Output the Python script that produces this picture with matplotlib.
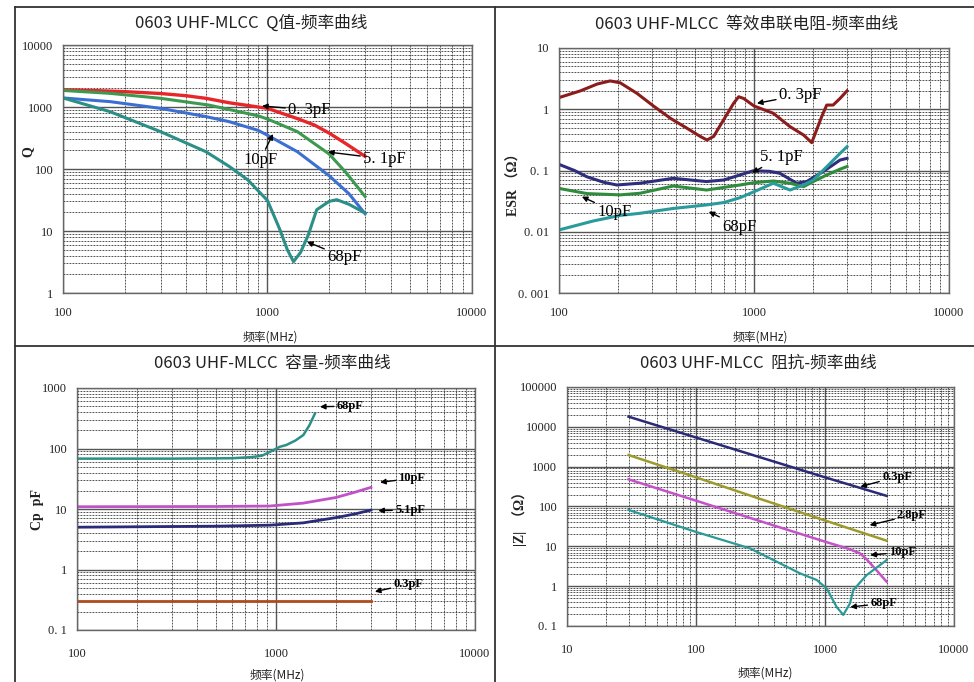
import numpy as np
import matplotlib
matplotlib.use("Agg")
import matplotlib.pyplot as plt
from matplotlib.ticker import LogLocator, NullFormatter
from matplotlib.lines import Line2D

W, H = 974, 682
SERIF = ['Liberation Serif', 'Noto Sans CJK SC']
CJK = ['Noto Sans CJK SC', 'DejaVu Sans']

# ---- Q vs frequency
q_f_03 = [100, 150, 200, 300, 400, 500, 650, 800, 1000, 1400, 1700, 2000, 2400, 3000]
q_03 = [1900, 1830, 1770, 1650, 1520, 1380, 1170, 1060, 950, 650, 510, 380, 260, 160]
q_f_51 = [100, 170, 300, 520, 660, 900, 1000, 1400, 2000, 2440, 3000]
q_51 = [1850, 1660, 1380, 1070, 900, 720, 640, 400, 175, 85, 36]
q_f_10 = [100, 170, 300, 500, 650, 900, 1000, 1400, 2000, 2500, 3000]
q_10 = [1400, 1220, 950, 700, 580, 420, 350, 190, 78, 40, 19]
q_f_68 = [100, 170, 300, 500, 650, 800, 1000, 1150, 1250, 1340, 1450, 1580, 1740,
          2000, 2180, 2500, 3000]
q_68 = [1400, 840, 400, 190, 110, 67, 31, 10.5, 5, 3.2, 4.5, 8.5, 22, 30, 32, 27, 19.5]

# ---- ESR vs frequency
esr_f_03 = [100, 129, 157, 183, 206, 251, 305, 373, 453, 530, 574, 621, 698, 786, 834,
            885, 1000, 1256, 1530, 1795, 1977, 2225, 2360, 2545, 2761, 3000]
esr_03 = [1.55, 2.0, 2.58, 2.9, 2.7, 1.82, 1.13, 0.71, 0.49, 0.36, 0.315, 0.36, 0.67,
          1.25, 1.6, 1.5, 1.13, 0.86, 0.52, 0.38, 0.285, 0.76, 1.17, 1.17, 1.5, 2.0]
esr_f_51 = [100, 120, 139, 170, 198, 260, 385, 571, 700, 848, 991, 1200, 1358, 1655,
            1863, 2264, 2761, 3000]
esr_51 = [0.126, 0.1, 0.079, 0.064, 0.058, 0.062, 0.0745, 0.066, 0.07, 0.0845, 0.099,
          0.097, 0.09, 0.062, 0.066, 0.096, 0.148, 0.158]
esr_f_10 = [100, 139, 206, 260, 385, 571, 848, 991, 1256, 1530, 1795, 2013, 2360, 2761, 3000]
esr_10 = [0.051, 0.042, 0.04, 0.0425, 0.0558, 0.048, 0.058, 0.063, 0.0674, 0.062, 0.0545,
          0.066, 0.0845, 0.105, 0.116]
esr_f_68 = [100, 150, 206, 260, 385, 571, 700, 848, 1000, 1256, 1530, 1795, 2013, 2360,
            2761, 3000]
esr_68 = [0.0107, 0.015, 0.0185, 0.02, 0.024, 0.0274, 0.03, 0.036, 0.045, 0.062, 0.048,
          0.058, 0.07, 0.115, 0.19, 0.245]

# ---- Cp vs frequency
cp_f_68 = [100, 300, 600, 750, 850, 933, 1047, 1125, 1250, 1372, 1470, 1570]
cp_68 = [68, 68, 69, 72, 76, 88, 107, 114, 135, 167, 240, 380]
cp_f_10 = [100, 500, 930, 1370, 2000, 2500, 3000]
cp_10 = [10.9, 11, 11.2, 12.5, 15.5, 19, 22.8]
cp_f_51 = [100, 500, 930, 1370, 2000, 2500, 3000]
cp_51 = [5.0, 5.2, 5.4, 5.9, 7.2, 8.3, 9.6]
cp_f_03 = [100, 1000, 3000]
cp_03 = [0.3, 0.3, 0.3]

# ---- |Z| vs frequency
z_f_03 = [30, 100, 300, 1000, 3000]
z_03 = [18000, 5400, 1800, 540, 185]
z_f_28 = [30, 100, 300, 1000, 3000]
z_28 = [1960, 540, 163, 44.5, 13.9]
z_f_10 = [30, 100, 300, 1000, 1500, 1866, 2104, 2366, 3000]
z_10 = [481, 140, 45, 13.1, 8.8, 6.7, 4.7, 3.1, 1.3]
z_f_68 = [30, 100, 262, 640, 862, 1030, 1231, 1386, 1562, 1657, 2104, 3000]
z_68 = [82, 23, 8.9, 2.1, 1.43, 0.88, 0.30, 0.19, 0.37, 0.8, 1.9, 4.5]


fig = plt.figure(figsize=(W / 100, H / 100), dpi=100)


def px_axes(l, t, r, b):
    return fig.add_axes([l / W, 1 - b / H, (r - l) / W, (b - t) / H])


def px_text(x, y, s, **kw):
    fig.text(x / W, 1 - y / H, s, **kw)


def setup(ax, xlim, ylim, yticks, ylabels, xticks, xlabels, xpad):
    ax.set_xscale('log')
    ax.set_yscale('log')
    ax.set_xlim(*xlim)
    ax.set_ylim(*ylim)
    ax.set_xticks(xticks, labels=xlabels)
    ax.set_yticks(yticks, labels=ylabels)
    for axis in (ax.xaxis, ax.yaxis):
        axis.set_minor_locator(LogLocator(base=10, subs=np.arange(2, 10), numticks=20))
        axis.set_minor_formatter(NullFormatter())
    ax.tick_params(which='both', length=0)
    ax.tick_params(axis='y', pad=7)
    ax.tick_params(axis='x', pad=xpad)
    for lab in ax.get_xticklabels() + ax.get_yticklabels():
        lab.set_fontfamily(SERIF)
        lab.set_fontsize(9)
        lab.set_color('#222222')
    ax.grid(which='major', ls='-', color='#555555', lw=1.0)
    ax.grid(which='minor', ls=(0, (2.2, 1.4)), color='#333333', lw=0.6)
    ax.set_axisbelow(True)
    for sp in ax.spines.values():
        sp.set_color('#666666')
        sp.set_linewidth(1.0)


def note(ax, s, xy, xytext, size=12, weight='normal'):
    ax.annotate(s, xy=xy, xytext=xytext, fontsize=size, fontfamily=SERIF,
                fontweight=weight, va='center', ha='left',
                arrowprops=dict(arrowstyle='-|>', color='black', lw=1.0,
                                mutation_scale=8, shrinkA=0, shrinkB=0))


# Q
ax1 = px_axes(63, 45, 472, 293)
setup(ax1, (100, 10000), (1, 10000), [1, 10, 100, 1000, 10000],
      ['1', '10', '100', '1000', '10000'], [100, 1000, 10000], ['100', '1000', '10000'], 10)
ax1.plot(q_f_03, q_03, color='#e8262a', lw=2.4)
ax1.plot(q_f_51, q_51, color='#3c9a50', lw=2.2)
ax1.plot(q_f_10, q_10, color='#3b6fd2', lw=2.2)
ax1.plot(q_f_68, q_68, color='#2a8f86', lw=2.2)
note(ax1, '0. 3pF', (940, 1040), (1259, 896))
note(ax1, '10pF', (1064, 367), (759, 140))
note(ax1, '5. 1pF', (1977, 188), (2930, 145))
note(ax1, '68pF', (1560, 6.7), (1955, 3.8))

# ESR
ax2 = px_axes(559, 48, 949, 293)
setup(ax2, (100, 10000), (0.001, 10), [0.001, 0.01, 0.1, 1, 10],
      ['0. 001', '0. 01', '0. 1', '1', '10'], [100, 1000, 10000], ['100', '1000', '10000'], 10)
ax2.plot(esr_f_03, esr_03, color='#8c1c1c', lw=2.2)
ax2.plot(esr_f_51, esr_51, color='#2e2e7c', lw=2.2)
ax2.plot(esr_f_10, esr_10, color='#2f8c3c', lw=2.2)
ax2.plot(esr_f_68, esr_68, color='#2a9a9c', lw=2.2)
note(ax2, '0. 3pF', (1035, 1.25), (1340, 1.71))
note(ax2, '5. 1pF', (977, 0.092), (1077, 0.168))
note(ax2, '10pF', (131, 0.0374), (157, 0.0213))
note(ax2, '68pF', (586, 0.0213), (686, 0.0121))

# Cp
ax3 = px_axes(77, 388, 475, 630)
setup(ax3, (100, 10000), (0.1, 1000), [0.1, 1, 10, 100, 1000],
      ['0. 1', '1', '10', '100', '1000'], [100, 1000, 10000], ['100', '1000', '10000'], 13)
ax3.plot(cp_f_68, cp_68, color='#2a9088', lw=1.8)
ax3.plot(cp_f_10, cp_10, color='#c052c8', lw=2.0)
ax3.plot(cp_f_51, cp_51, color='#2a2a7a', lw=2.0)
ax3.plot(cp_f_03, cp_03, color='#b04a1c', lw=2.0)
note(ax3, '68pF', (1663, 490), (2018, 503), size=9, weight='bold')
note(ax3, '10pF', (3335, 27.6), (4121, 32), size=9, weight='bold')
note(ax3, '5.1pF', (3266, 9.4), (3964, 9.6), size=9, weight='bold')
note(ax3, '0.3pF', (3140, 0.43), (3890, 0.57), size=9, weight='bold')

# |Z|
ax4 = px_axes(567, 387, 954, 626)
setup(ax4, (10, 10000), (0.1, 100000), [0.1, 1, 10, 100, 1000, 10000, 100000],
      ['0. 1', '1', '10', '100', '1000', '10000', '100000'],
      [10, 100, 1000, 10000], ['10', '100', '1000', '10000'], 13)
ax4.plot(z_f_03, z_03, color='#2a2a78', lw=1.8)
ax4.plot(z_f_28, z_28, color='#9c9a2c', lw=1.8)
ax4.plot(z_f_10, z_10, color='#c452c8', lw=1.8)
ax4.plot(z_f_68, z_68, color='#2a9a98', lw=1.6)
note(ax4, '0.3pF', (1880, 314), (2767, 560), size=9, weight='bold')
note(ax4, '2.8pF', (2218, 34), (3614, 61), size=9, weight='bold')
note(ax4, '10pF', (2244, 6.05), (3120, 7.1), size=9, weight='bold')
note(ax4, '68pF', (1570, 0.30), (2244, 0.37), size=9, weight='bold')

# titles, axis labels
titles = [(251, 23, '0603 UHF-MLCC  Q值-频率曲线'),
          (747, 24, '0603 UHF-MLCC  等效串联电阻-频率曲线'),
          (272, 363, '0603 UHF-MLCC  容量-频率曲线'),
          (758, 363, '0603 UHF-MLCC  阻抗-频率曲线')]
for x, y, s in titles:
    px_text(x, y, s, ha='center', va='center', fontsize=12, fontfamily=CJK, color='#222222')

for x, y in [(270, 337), (760, 337), (277, 675), (765, 673)]:
    px_text(x, y, '频率(MHz)', ha='center', va='center', fontsize=8.5, fontfamily=CJK,
            color='#222222')

ylabs = [(28, 152, 'Q'), (514, 181, 'ESR （Ω）'), (37, 510, 'Cp  pF'), (520, 515, '|Z|  （Ω）')]
for x, y, s in ylabs:
    px_text(x, y, s, ha='center', va='center', rotation=90, fontsize=10,
            fontfamily=SERIF, fontweight='bold', color='#222222')

# panel frame lines
frame = [((15, 15), (7, H)), ((15, W), (7, 7)), ((495, 495), (7, H)), ((15, W), (346, 346))]
for xs, ys in frame:
    fig.add_artist(Line2D([v / W for v in xs], [1 - v / H for v in ys],
                          color='#333333', lw=1.3))

fig.savefig('out.png', dpi=100)
